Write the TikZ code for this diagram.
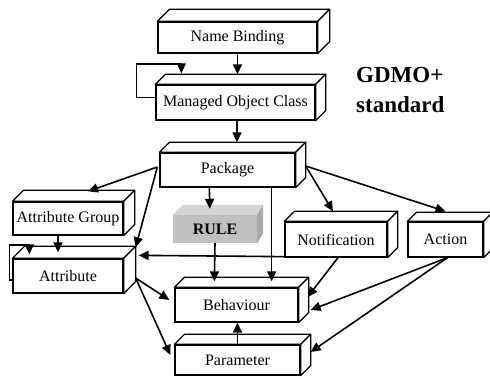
\documentclass[tikz,border=0pt]{standalone}
\usepackage{fontspec}
\setmainfont{Liberation Serif}
\usetikzlibrary{arrows.meta,calc}
\definecolor{rulefront}{RGB}{192,192,192}
\definecolor{ruletop}{RGB}{212,212,212}
\definecolor{ruleside}{RGB}{168,168,168}
\tikzset{
  cube/.style={draw, line width=1.3pt, fill=white, inner sep=0pt,
    font=\fontsize{16}{18}\selectfont},
  face/.style={draw, line width=1.3pt, fill=white, line join=round},
  arr/.style={draw, line width=1.6pt, -{Triangle[length=10pt,width=9pt]}}
}
\begin{document}
\begin{tikzpicture}[x=1pt,y=1pt]
\useasboundingbox (0,0) rectangle (490,379);
% front faces
\node[cube, minimum width=159pt, minimum height=31pt] (nb) at (237.5,341.5) {Name Binding};
\node[cube, minimum width=159pt, minimum height=35pt] (moc) at (235.5,276.5) {Managed Object Class};
\node[cube, minimum width=135pt, minimum height=34pt] (pkg) at (227.5,209) {Package};
\node[inner sep=0pt, fill=rulefront, minimum width=84pt, minimum height=28pt,
  font=\fontsize{16}{18}\selectfont\bfseries] (rule) at (215,150) {RULE};
\node[cube, minimum width=110pt, minimum height=33pt] (ag) at (68,160.5) {Attribute Group};
\node[cube, minimum width=110pt, minimum height=34pt] (attr) at (68,103) {Attribute};
\node[cube, minimum width=102pt, minimum height=35pt] (notif) at (336,139.5) {Notification};
\node[cube, minimum width=75pt, minimum height=35pt] (action) at (445.5,139.5) {Action};
\node[cube, minimum width=123pt, minimum height=34pt] (beh) at (236.5,74) {Behaviour};
\node[cube, minimum width=125pt, minimum height=30pt] (param) at (237.5,19) {Parameter};
% 3D faces
\foreach \n/\d in {nb/12,moc/10,pkg/10,ag/11,attr/12,notif/10,action/9,beh/10,param/10}{
  \draw[face] (\n.north west) -- ++(\d,\d) -- ($(\n.north east)+(\d,\d)$) -- (\n.north east) -- cycle;
  \draw[face] (\n.north east) -- ++(\d,\d) -- ($(\n.south east)+(\d,\d)$) -- (\n.south east) -- cycle;
}
\fill[ruletop] (rule.north west) -- ++(10,10) -- ($(rule.north east)+(6,10)$) -- (rule.north east) -- cycle;
\fill[ruleside] (rule.north east) -- ($(rule.north east)+(6,10)$) -- ($(rule.south east)+(6,10)$) -- (rule.south east) -- cycle;
% title
\node[anchor=west, align=left, inner sep=0pt, font=\fontsize{23}{30}\selectfont\bfseries] (title) at (356,289) {GDMO+\\standard};
% connectors
\draw[arr] (nb.south) -- ($(moc.north)+(2,10)$);
\draw[arr] ($(moc.west)+(0,5)$) -| ($(moc.west)+(-19,38.5)$) -| ($(moc.north west)+(26,11)$);
\draw[arr] ($(moc.south)+(1.5,0)$) -- ($(pkg.north)+(9.5,10)$);
\draw[arr] ($(pkg.west)+(-2,3)$) -- ($(ag.north)+(20,10)$);
\draw[arr] ($(pkg.west)+(-2,3)$) -- ($(attr.north east)+(12,11)$);
\draw[arr] ($(pkg.south west)+(50,0)$) -- ($(rule.north west)+(37,6)$);
\draw[arr] ($(pkg.south east)+(-24,0)$) -- ($(beh.north east)+(-27,6)$);
\draw[arr] (rule.south) -- ($(beh.north west)+(40,6)$);
\draw[arr] ($(notif.south west)+(0,1)$) -- ($(attr.north east)+(15,3)$);
\draw[arr] ($(ag.south)+(-10,0)$) -- ($(attr.north)+(-10,6)$);
\draw[arr] ($(attr.west)+(0,-4)$) -| ($(attr.west)+(-3,31)$) -| ($(attr.north west)+(17,4)$);
\draw[arr] ($(attr.east)+(12,-2)$) -- ($(beh.west)+(-5,5)$);
\draw[arr] ($(attr.east)+(12,-2)$) -- ($(param.west)+(-4,5)$);
\draw[arr] ($(pkg.east)+(10,4)$) -- ($(notif.north)+(-3,10)$);
\draw[arr] ($(pkg.east)+(10,4)$) -- ($(action.north)+(0,10)$);
\draw[arr] ($(notif.south)+(2,0)$) -- ($(beh.east)+(9,8)$);
\draw[arr] ($(action.south)+(2,0)$) -- ($(beh.east)+(12,-5)$);
\draw[arr] ($(action.south)+(2,0)$) -- ($(param.east)+(10,8)$);
\draw[arr] (param.north) -- (param.north |- beh.south);
\end{tikzpicture}
\end{document}
